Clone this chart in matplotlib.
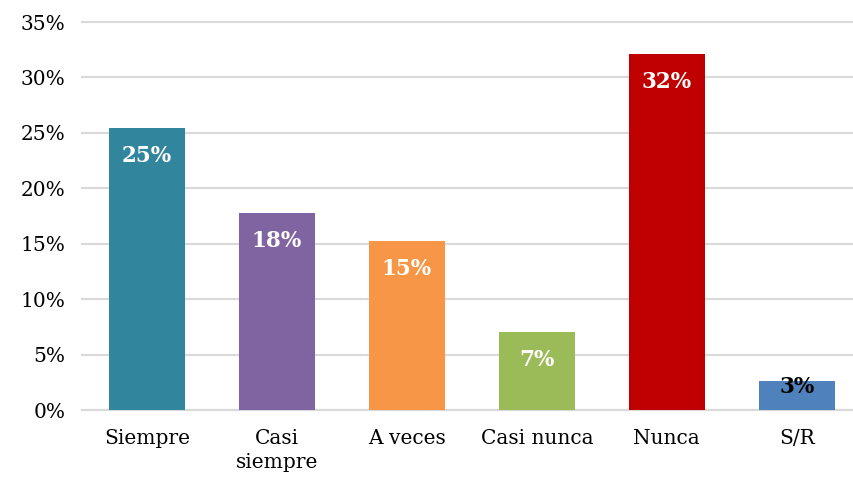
import matplotlib.pyplot as plt
from matplotlib.ticker import FuncFormatter

categories = ["Siempre", "Casi\nsiempre", "A veces", "Casi nunca", "Nunca", "S/R"]
values = [25.4, 17.8, 15.2, 7.0, 32.1, 2.6]
labels = ["25%", "18%", "15%", "7%", "32%", "3%"]
colors = ["#31859C", "#8064A2", "#F79646", "#9BBB59", "#C00000", "#4F81BD"]
label_colors = ["white", "white", "white", "white", "white", "black"]

plt.rcParams['font.family'] = ['DejaVu Serif']

fig = plt.figure(figsize=(8.54, 4.82), dpi=100)
ax = fig.add_axes([82/854, 72/482, 772/854, 388/482])

x = list(range(len(categories)))
bars = ax.bar(x, values, width=0.58, color=colors, zorder=3)

# data labels inside the top of each bar
for i, b in enumerate(bars):
    top = b.get_height()
    off = -28 if top > 5 else -6
    ax.annotate(labels[i], (b.get_x() + b.get_width()/2, top),
                xytext=(0, off), textcoords="offset pixels",
                ha="center", va="center", fontsize=15.5, fontweight="bold",
                color=label_colors[i], zorder=4)

ax.set_ylim(0, 35)
ax.set_xlim(-0.5, 5.44)
ax.set_yticks(range(0, 36, 5))
ax.yaxis.set_major_formatter(FuncFormatter(lambda v, p: "%d%%" % v))
ax.set_xticks(x)
ax.set_xticklabels(categories, linespacing=1.3)
ax.tick_params(axis="both", length=0, labelsize=14.5, colors="#000000")
ax.tick_params(axis="x", pad=14)
ax.tick_params(axis="y", pad=12)

ax.grid(axis="y", color="#D9D9D9", linewidth=1.5, zorder=0)
for gl in ax.get_ygridlines():
    gl.set_clip_on(False)
for s in ["top", "right", "left"]:
    ax.spines[s].set_visible(False)
ax.spines["bottom"].set_color("#D9D9D9")
ax.spines["bottom"].set_linewidth(1.5)

fig.savefig("out.png", dpi=100)
